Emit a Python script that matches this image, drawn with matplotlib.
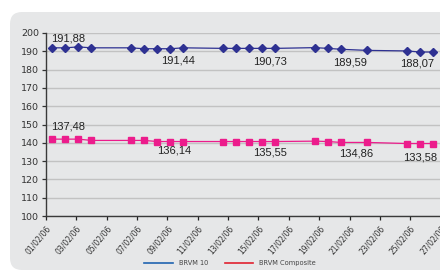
import matplotlib
matplotlib.use("Agg")
import matplotlib.pyplot as plt
from matplotlib.patches import FancyBboxPatch
from matplotlib.lines import Line2D
from datetime import datetime

# ---------------- data ----------------
dates = ["31/01/06", "01/02/06", "02/02/06", "03/02/06", "06/02/06", "07/02/06",
         "08/02/06", "09/02/06", "10/02/06", "13/02/06", "14/02/06", "15/02/06",
         "16/02/06", "17/02/06", "20/02/06", "21/02/06", "22/02/06", "24/02/06",
         "27/02/06", "28/02/06", "01/03/06"]
brvm10 = [191.9, 191.9, 192.4, 191.9, 191.9, 191.4, 191.4, 191.4, 191.9,
          191.6, 191.6, 191.6, 191.6, 191.6, 192.0, 191.6, 191.1, 190.5,
          190.2, 189.6, 189.6]
brvm_comp = [142.0, 142.0, 142.0, 141.3, 141.3, 141.3, 140.7, 140.7, 140.7,
             140.7, 140.7, 140.7, 140.7, 140.7, 140.9, 140.7, 140.2, 140.2,
             139.6, 139.6, 139.6]
tick_labels = ["01/02/06", "03/02/06", "05/02/06", "07/02/06", "09/02/06",
               "11/02/06", "13/02/06", "15/02/06", "17/02/06", "19/02/06",
               "21/02/06", "23/02/06", "25/02/06", "27/02/06"]
# annotations: text and the point index they belong to
blue_note_text = ["191,88", "191,44", "190,73", "189,59", "188,07"]
blue_note_idx = [0, 8, 13, 16, 18]
pink_note_text = ["137,48", "136,14", "135,55", "134,86", "133,58"]
pink_note_idx = [0, 8, 13, 16, 19]
series_names = ["BRVM 10", "BRVM Composite"]

# ---------------- layout / style ----------------
blue_note_off = [(-1, 9), (-5, -13), (-5, -13), (9, -13), (10, -13)]
pink_note_off = [(-1, 13), (-9, -9), (-5, -11), (15, -11), (0, -14)]

W, H, DPI = 440, 273, 100
fig = plt.figure(figsize=(W / DPI, H / DPI), dpi=DPI)
fig.patch.set_facecolor("white")

panel_col = "#e6e7e8"
panel = FancyBboxPatch((10 / DPI, (H - 270) / DPI), 480 / DPI, 258 / DPI,
                       boxstyle="round,pad=0,rounding_size=0.12",
                       transform=fig.dpi_scale_trans, facecolor=panel_col,
                       edgecolor="none", zorder=-10)
fig.patches.append(panel)

x0 = datetime.strptime(dates[0], "%d/%m/%y")
xs = [(datetime.strptime(d, "%d/%m/%y") - x0).days for d in dates]

# axes pixel box
L, R, T, B = 46, 446, 33, 216
ax = fig.add_axes([L / W, 1 - B / H, (R - L) / W, (B - T) / H])
ax.set_facecolor("none")
ax.set_zorder(5)

px_per_day = 13.14
x_left = (L - 52) / px_per_day
x_right = x_left + (R - L) / px_per_day
ax.set_xlim(x_left, x_right)
ax.set_ylim(100, 200)

tick_step = 30.35 / px_per_day
ax.set_xticks([x_left + i * tick_step for i in range(len(tick_labels))])
ax.set_xticklabels(tick_labels, rotation=50, ha="right", rotation_mode="anchor",
                   fontsize=5.5, color="#333333")
ax.set_yticks(range(100, 201, 10))
ax.tick_params(axis="y", labelsize=6.8, colors="#333333", length=3, width=0.9, pad=2)
ax.tick_params(axis="x", length=3, width=0.9, pad=2.5, colors="#222222")
for lab in ax.get_xticklabels():
    lab.set_color("#333333")
for lab in ax.get_yticklabels():
    lab.set_color("#333333")

ax.grid(axis="y", color="#c2c2c2", linewidth=1.0)
ax.set_axisbelow(True)
for s in ["top", "right"]:
    ax.spines[s].set_visible(False)
for s in ["left", "bottom"]:
    ax.spines[s].set_color("#3a3a3a")
    ax.spines[s].set_linewidth(1.0)

blue = "#2e3192"
pink = "#ec1c8c"
ax.plot(xs, brvm10, color=blue, lw=0.9, marker="D", ms=4.0, mfc=blue, mec=blue, zorder=3)
ax.plot(xs, brvm_comp, color=pink, lw=0.9, marker="s", ms=4.4, mfc=pink, mec=pink, zorder=3)

fnt = ["Liberation Sans Narrow", "Liberation Sans", "DejaVu Sans"]
for txt, i, off in zip(blue_note_text, blue_note_idx, blue_note_off):
    ax.annotate(txt, (xs[i], brvm10[i]), xytext=off, textcoords="offset pixels",
                ha="left" if i == 0 else "center", va="center", fontsize=8,
                color="#222222", family=fnt, annotation_clip=False)
for txt, i, off in zip(pink_note_text, pink_note_idx, pink_note_off):
    ax.annotate(txt, (xs[i], brvm_comp[i]), xytext=off, textcoords="offset pixels",
                ha="left" if i == 0 else "center", va="center", fontsize=8,
                color="#222222", family=fnt, annotation_clip=False)

handles = [Line2D([0], [0], color="#1f64b0", lw=1.2),
           Line2D([0], [0], color="#e0202f", lw=1.2)]
leg = fig.legend(handles, series_names, loc="center", bbox_to_anchor=(230 / W, 1 - 263 / H),
                 ncol=2, frameon=False, fontsize=4.8, handlelength=4.3, columnspacing=2.5,
                 handletextpad=0.9)
for t in leg.get_texts():
    t.set_color("#444444")

fig.savefig("out.png", dpi=DPI, facecolor="white")
